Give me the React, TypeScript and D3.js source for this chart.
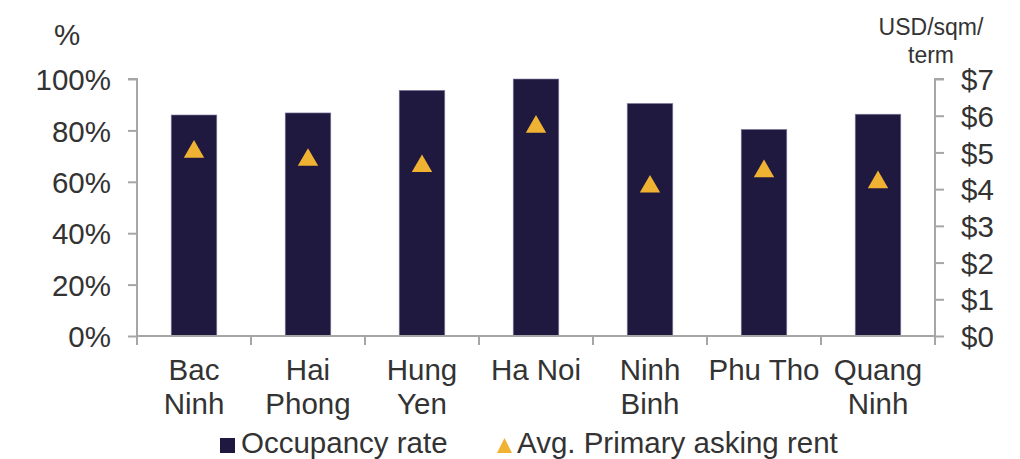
// @ts-nocheck
import React from "react";
import * as d3 from "d3";

const categories = ["Bac\nNinh", "Hai\nPhong", "Hung\nYen", "Ha Noi", "Ninh\nBinh", "Phu Tho", "Quang\nNinh"];
const occupancy = [86, 86.8, 95.6, 100, 90.5, 80.4, 86.3];
const askingRent = [5.07, 4.85, 4.68, 5.75, 4.12, 4.54, 4.24];
const leftTicks = [0, 20, 40, 60, 80, 100];
const rightTicks = [0, 1, 2, 3, 4, 5, 6, 7];

const BAR = "#1f1940";
const GOLD = "#f0b232";
const AXIS = "#a6a6a6";
const TEXT = "#333333";
const FONT = "'Liberation Sans', Arial, sans-serif";
const FS = 29.5;

const App = () => {
  const svgRef = React.useRef(null);
  const width = 1020;
  const height = 459;
  const margin = { left: 137, right: 85, top: 79, bottom: 123 };
  const innerW = width - margin.left - margin.right;
  const innerH = height - margin.top - margin.bottom;

  React.useEffect(() => {
    const xBands = d3.scaleBand().domain(categories).range([0, innerW]);
    const yLeft = d3.scaleLinear().domain([0, 100]).range([innerH, 0]);
    const yRight = d3.scaleLinear().domain([0, 7]).range([innerH, 0]);
    const barW = xBands.bandwidth() * 0.4;

    const svgEl = d3.select(svgRef.current);
    svgEl.selectAll("*").remove();
    const svg = svgEl.append("g")
      .attr("transform", `translate(${margin.left},${margin.top})`);

    // bars
    svg.append("g")
      .selectAll("rect")
      .data(occupancy)
      .enter()
      .append("rect")
      .attr("x", (d, i) => xBands(categories[i]) + (xBands.bandwidth() - barW) / 2)
      .attr("width", barW)
      .attr("y", d => yLeft(d))
      .attr("height", d => innerH - yLeft(d))
      .attr("fill", BAR)
      .attr("stroke", "#8a86a8")
      .attr("stroke-width", 0.6);

    // left axis
    const leftAxis = d3.axisLeft(yLeft)
      .tickValues(leftTicks)
      .tickSize(9)
      .tickPadding(17)
      .tickFormat(d => `${d}%`);
    const lg = svg.append("g").call(leftAxis);
    lg.select(".domain").attr("stroke", AXIS).attr("stroke-width", 2).attr("d", `M-9,0H0V${innerH}`);
    lg.selectAll("line").attr("stroke", AXIS).attr("stroke-width", 2);
    lg.selectAll("text")
      .attr("fill", TEXT)
      .attr("font-size", FS)
      .attr("font-family", FONT)
      .attr("dy", "0.36em");

    // right axis
    const rightAxis = d3.axisRight(yRight)
      .tickValues(rightTicks)
      .tickSize(9)
      .tickPadding(17)
      .tickFormat(d => `$${d}`);
    const rg = svg.append("g").attr("transform", `translate(${innerW},0)`).call(rightAxis);
    rg.select(".domain").attr("stroke", AXIS).attr("stroke-width", 2).attr("d", `M9,0H0V${innerH}`);
    rg.selectAll("line").attr("stroke", AXIS).attr("stroke-width", 2);
    rg.selectAll("text")
      .attr("fill", TEXT)
      .attr("font-size", FS)
      .attr("font-family", FONT)
      .attr("dy", "0.36em");

    // bottom axis with category boundaries
    const bg = svg.append("g").attr("transform", `translate(0,${innerH})`);
    bg.append("line")
      .attr("x1", 0).attr("x2", innerW)
      .attr("stroke", AXIS).attr("stroke-width", 2);
    bg.selectAll(".sep")
      .data(d3.range(categories.length + 1))
      .enter()
      .append("line")
      .attr("x1", i => i * xBands.bandwidth())
      .attr("x2", i => i * xBands.bandwidth())
      .attr("y1", 0).attr("y2", 9)
      .attr("stroke", AXIS).attr("stroke-width", 2);
    const labels = bg.selectAll(".lbl")
      .data(categories)
      .enter()
      .append("text")
      .attr("x", d => xBands(d) + xBands.bandwidth() / 2)
      .attr("y", 44)
      .attr("text-anchor", "middle")
      .attr("fill", TEXT)
      .attr("font-size", FS)
      .attr("font-family", FONT);
    labels.each(function (d) {
      const t = d3.select(this);
      d.split("\n").forEach((part, k) => {
        t.append("tspan")
          .attr("x", t.attr("x"))
          .attr("dy", k === 0 ? 0 : 34)
          .text(part);
      });
    });

    // triangles
    const tri = d3.symbol().type(d3.symbolTriangle).size(180);
    svg.append("g")
      .selectAll("path")
      .data(askingRent)
      .enter()
      .append("path")
      .attr("d", tri)
      .attr("transform", (d, i) => `translate(${xBands(categories[i]) + xBands.bandwidth() / 2},${yRight(d) + 2})`)
      .attr("fill", GOLD);

    // axis titles
    const root = svgEl.append("g").attr("font-family", FONT).attr("fill", TEXT);
    root.append("text").attr("x", 67).attr("y", 45).attr("text-anchor", "middle")
      .attr("font-size", FS).text("%");
    root.append("text").attr("x", 931).attr("y", 35).attr("text-anchor", "middle")
      .attr("font-size", 23).text("USD/sqm/");
    root.append("text").attr("x", 931).attr("y", 63).attr("text-anchor", "middle")
      .attr("font-size", 23).text("term");

    // legend
    const leg = svgEl.append("g").attr("font-family", FONT).attr("fill", TEXT).attr("font-size", FS);
    leg.append("rect").attr("x", 220).attr("y", 438).attr("width", 15).attr("height", 15).attr("fill", BAR);
    leg.append("text").attr("x", 241).attr("y", 453).text("Occupancy rate");
    leg.append("path")
      .attr("d", "M504.5,438L512,453L497,453Z")
      .attr("fill", GOLD);
    leg.append("text").attr("x", 517).attr("y", 453).text("Avg. Primary asking rent");
  }, []);

  return (
    <svg
      ref={svgRef}
      width={width}
      height={height}
      style={{ position: "absolute", left: 0, top: 0, background: "#fff" }}
    />
  );
};

export default App;
